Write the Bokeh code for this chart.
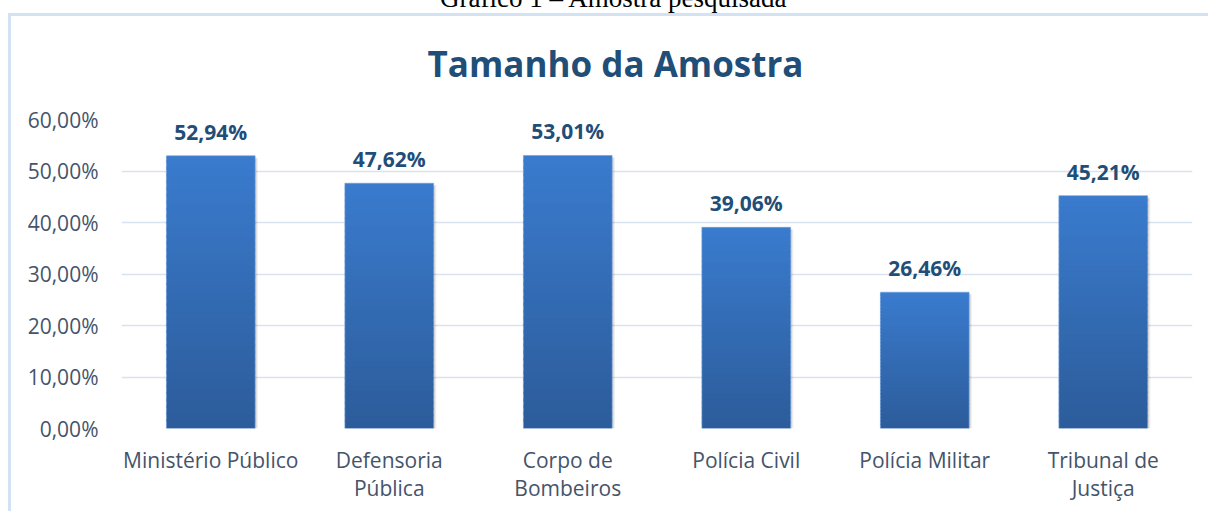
from bokeh.plotting import figure
from bokeh.models import ColumnDataSource, FixedTicker, Range1d, FactorRange, Label, InlineStyleSheet
from bokeh.core.properties import value
from bokeh.transform import dodge
from bokeh.embed import file_html
from bokeh.resources import INLINE

# ---- data ----
categories = ["Ministério Público", "Defensoria\nPública", "Corpo de\nBombeiros",
              "Polícia Civil", "Polícia Militar", "Tribunal de\nJustiça"]
values = [52.94, 47.62, 53.01, 39.06, 26.46, 45.21]
value_labels = ["52,94%", "47,62%", "53,01%", "39,06%", "26,46%", "45,21%"]
y_ticks = [0, 10, 20, 30, 40, 50, 60]
y_tick_labels = ["0,00%", "10,00%", "20,00%", "30,00%", "40,00%", "50,00%", "60,00%"]
title_text = "Tamanho da Amostra"
caption_text = "Gráfico 1 – Amostra pesquisada"

FONT = "Open Sans"
AXIS_COLOR = "#44546A"
LABEL_COLOR = "#1F4E79"
GRID_COLOR = "#D9E2EF"
BORDER_COLOR = "#D3E2F3"
TOP_RGB = (58, 123, 206)
BOT_RGB = (44, 92, 154)

W, H = 1208, 511
FL, FR, FT, FB = 121, 16, 119, 83   # frame borders
p = figure(width=W, height=H, x_range=FactorRange(*categories), y_range=Range1d(0, 60),
           output_backend="svg", toolbar_location=None, tools="",
           min_border_left=FL, min_border_right=FR, min_border_top=FT, min_border_bottom=FB)
p.outline_line_color = None
p.background_fill_color = "white"
p.border_fill_color = "white"

src = ColumnDataSource(dict(x=categories, top=values, lab=value_labels,
                            shadow_top=[v - 0.4 for v in values]))

# soft shadow on the right of each bar
p.vbar(x=dodge("x", 0.016, range=p.x_range), top="shadow_top", width=0.497, source=src,
       fill_color="#000000", fill_alpha=0.06, line_color=None)
p.vbar(x=dodge("x", 0.009, range=p.x_range), top="shadow_top", width=0.497, source=src,
       fill_color="#000000", fill_alpha=0.10, line_color=None)

# gradient bars built from the values (segments stacked from 0 to value)
N = 40
xs, bottoms, tops, colors = [], [], [], []
for c, v in zip(categories, values):
    for i in range(N):
        t = (i + 0.5) / N
        r = round(BOT_RGB[0] + (TOP_RGB[0] - BOT_RGB[0]) * t)
        g = round(BOT_RGB[1] + (TOP_RGB[1] - BOT_RGB[1]) * t)
        b = round(BOT_RGB[2] + (TOP_RGB[2] - BOT_RGB[2]) * t)
        xs.append(c)
        bottoms.append(v * i / N)
        tops.append(min(v, v * (i + 1.4) / N))
        colors.append("#%02x%02x%02x" % (r, g, b))
seg = ColumnDataSource(dict(x=xs, bottom=bottoms, top=tops, color=colors))
p.vbar(x="x", bottom="bottom", top="top", width=0.497, source=seg,
       fill_color="color", line_color=None)

p.vbar(x="x", top="top", width=0.497, source=src, fill_color=None,
       line_color="#6c9ddb", line_alpha=0.6, line_width=1)

p.text(x="x", y="top", text="lab", source=src, y_offset=-24,
       text_align="center", text_baseline="middle",
       text_font=value(FONT), text_font_style="bold", text_font_size="21px",
       text_color=LABEL_COLOR)

# axes
p.xaxis.axis_line_color = None
p.xaxis.major_tick_line_color = None
p.xaxis.minor_tick_line_color = None
p.xaxis.major_label_text_font = FONT
p.xaxis.major_label_text_font_size = "21px"
p.xaxis.major_label_text_color = AXIS_COLOR
p.xaxis.major_label_text_line_height = 1.0
p.xaxis.major_label_standoff = 11

p.yaxis.ticker = FixedTicker(ticks=y_ticks)
p.yaxis.major_label_overrides = {t: l for t, l in zip(y_ticks, y_tick_labels)}
p.yaxis.axis_line_color = None
p.yaxis.major_tick_line_color = None
p.yaxis.minor_tick_line_color = None
p.yaxis.major_label_text_font = FONT
p.yaxis.major_label_text_font_size = "21px"
p.yaxis.major_label_text_color = AXIS_COLOR
p.yaxis.major_label_standoff = 17

p.xgrid.grid_line_color = None
p.ygrid.ticker = FixedTicker(ticks=y_ticks)
p.ygrid.grid_line_color = GRID_COLOR
p.ygrid.grid_line_width = 1.5

# texts in canvas coordinates, placed in the top panel (not clipped to the frame)
p.add_layout(Label(x=613.5, y=-2.5, x_units="canvas", y_units="canvas",
                   text=caption_text, text_align="center", text_baseline="middle",
                   text_font="Liberation Serif", text_font_size="27px",
                   text_color="black"), "above")
p.add_layout(Label(x=615, y=63, x_units="canvas", y_units="canvas",
                   text=title_text, text_align="center", text_baseline="middle",
                   text_font=FONT, text_font_style="bold", text_font_size="35px",
                   text_color=LABEL_COLOR), "above")

# chart-area border (left and top edges; the rest lies outside the window)
p.stylesheets = [InlineStyleSheet(css=(
    ":host::after { content: ''; position: absolute; left: 8px; top: 13px; right: 0px; bottom: 0px;"
    " border-left: 3px solid %s; border-top: 3px solid %s; pointer-events: none; z-index: 100; }"
    % (BORDER_COLOR, BORDER_COLOR)))]

open("out.html", "w").write(file_html(p, INLINE))
